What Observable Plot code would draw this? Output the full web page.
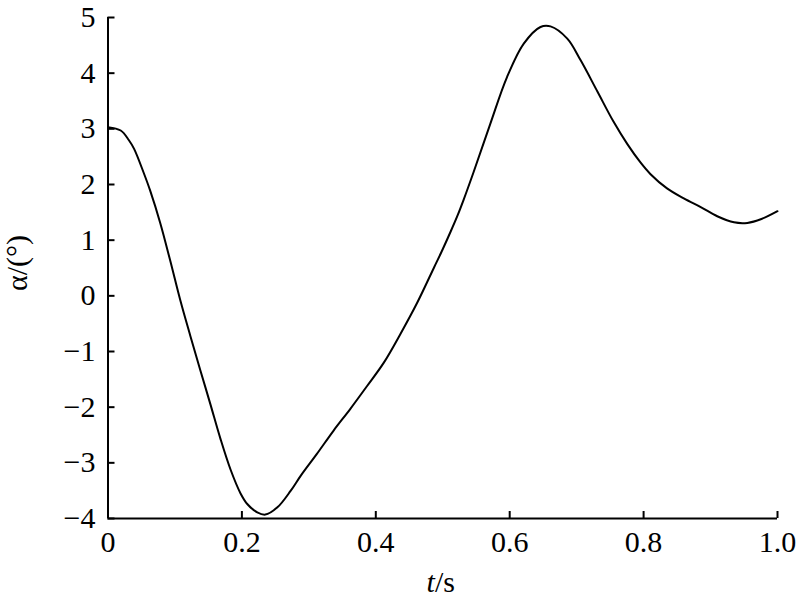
<!DOCTYPE html>
<html><head><meta charset="utf-8">
<script src="https://cdn.jsdelivr.net/npm/d3@7"></script>
<script src="https://cdn.jsdelivr.net/npm/@observablehq/plot@0.6"></script>
<style>body{margin:0;background:#fff} svg{display:block}</style>
</head><body><div id="chart"></div>
<script>
const tValues = [0, 0.019, 0.031, 0.039, 0.053, 0.063, 0.078, 0.093, 0.108, 0.123, 0.138, 0.153, 0.168, 0.183, 0.198, 0.208, 0.223, 0.235, 0.253, 0.273, 0.288, 0.312, 0.337, 0.362, 0.387, 0.412, 0.437, 0.462, 0.487, 0.497, 0.512, 0.522, 0.531, 0.546, 0.571, 0.596, 0.621, 0.646, 0.661, 0.686, 0.706, 0.731, 0.755, 0.776, 0.795, 0.810, 0.835, 0.860, 0.886, 0.910, 0.935, 0.955, 0.976, 1.0];
const alphaValues = [3.03, 2.97, 2.80, 2.64, 2.22, 1.89, 1.31, 0.63, -0.08, -0.72, -1.34, -1.95, -2.57, -3.12, -3.55, -3.74, -3.89, -3.93, -3.80, -3.50, -3.23, -2.84, -2.42, -2.03, -1.62, -1.20, -0.68, -0.12, 0.51, 0.76, 1.16, 1.44, 1.72, 2.22, 3.09, 3.93, 4.53, 4.83, 4.84, 4.62, 4.23, 3.67, 3.13, 2.72, 2.40, 2.19, 1.93, 1.75, 1.59, 1.43, 1.32, 1.31, 1.38, 1.52];
const xTicks = [0, 0.2, 0.4, 0.6, 0.8, 1.0];
const xTickLabels = ["0", "0.2", "0.4", "0.6", "0.8", "1.0"];
const yTicks = [-4, -3, -2, -1, 0, 1, 2, 3, 4, 5];
const yTickLabels = ["\u22124", "\u22123", "\u22122", "\u22121", "0", "1", "2", "3", "4", "5"];
const xTitleItalic = "t";
const xTitleRest = "/s";
const yTitle = "α/(°)";

const data = tValues.map((t, i) => ({t, a: alphaValues[i]}));

const W = 800, H = 604, mL = 107.5, mR = 23, mT = 17, mB = 86, tickLen = 7;
const xDom = [0, 1], yDom = [-4, 5];
// tick length converted into data units
const dyTick = (yDom[1] - yDom[0]) * tickLen / (H - mT - mB);
const dxTick = (xDom[1] - xDom[0]) * tickLen / (W - mL - mR);

const plot = Plot.plot({
  width: W,
  height: H,
  marginLeft: mL,
  marginRight: mR,
  marginTop: mT,
  marginBottom: mB,
  style: {fontFamily: "'Liberation Serif','Times New Roman',serif", fontSize: "30px", color: "#000", background: "#fff"},
  x: {domain: xDom},
  y: {domain: yDom},
  marks: [
    Plot.axisX({ticks: xTicks, tickSize: 0, tickPadding: 11.7, tickFormat: d => xTickLabels[xTicks.indexOf(d)], label: null}),
    Plot.axisY({ticks: yTicks, tickSize: 0, tickPadding: 12.5, tickFormat: d => yTickLabels[yTicks.indexOf(d)], label: null}),
    Plot.ruleX(xTicks, {x: d => d, y1: yDom[0], y2: yDom[0] + dyTick, stroke: "#000", strokeWidth: 2}),
    Plot.ruleY(yTicks, {y: d => d, x1: xDom[0], x2: xDom[0] + dxTick, stroke: "#000", strokeWidth: 2}),
    Plot.ruleX([xDom[0]], {stroke: "#000", strokeWidth: 2}),
    Plot.ruleY([yDom[0]], {stroke: "#000", strokeWidth: 2}),
    Plot.line(data, {x: "t", y: "a", stroke: "#000", strokeWidth: 2, curve: "catmull-rom"})
  ]
});

const svg = d3.select(plot);
const xr = plot.scale("x").range;
const xt = svg.append("text")
  .attr("x", (xr[0] + xr[1]) / 2 - 1.5)
  .attr("y", 592)
  .attr("text-anchor", "middle")
  .attr("fill", "#000")
  .style("font-size", "30px");
xt.append("tspan").attr("font-style", "italic").text(xTitleItalic);
xt.append("tspan").text(xTitleRest);
svg.append("text")
  .attr("transform", "translate(27,263) rotate(-90)")
  .attr("text-anchor", "middle")
  .attr("fill", "#000")
  .style("font-size", "30px")
  .text(yTitle);

document.getElementById("chart").appendChild(plot);
</script>
</body></html>
